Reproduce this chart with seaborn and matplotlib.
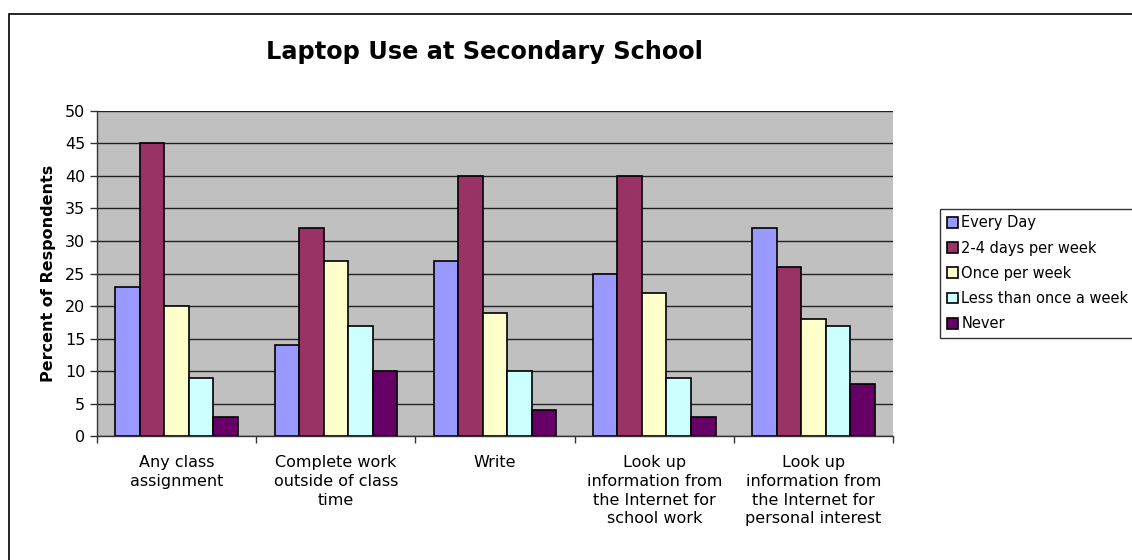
import pandas as pd
import seaborn as sns
import matplotlib.pyplot as plt
from matplotlib.patches import Rectangle

# chart data
activities = [
    "Any class\nassignment",
    "Complete work\noutside of class\ntime",
    "Write",
    "Look up\ninformation from\nthe Internet for\nschool work",
    "Look up\ninformation from\nthe Internet for\npersonal interest",
]
frequencies = ["Every Day", "2-4 days per week", "Once per week",
               "Less than once a week", "Never"]
every_day = [23, 14, 27, 25, 32]
two_four_days = [45, 32, 40, 40, 26]
once_week = [20, 27, 19, 22, 18]
less_than_once = [9, 17, 10, 9, 17]
never = [3, 10, 4, 3, 8]
bar_colors = ["#9999FF", "#993366", "#FFFFCC", "#CCFFFF", "#660066"]

series = [every_day, two_four_days, once_week, less_than_once, never]
rows = []
for freq, values in zip(frequencies, series):
    for act, v in zip(activities, values):
        rows.append({"activity": act, "frequency": freq, "percent": v})
df = pd.DataFrame(rows)

sns.set_theme(style="white")
plt.rcParams["font.family"] = ["DejaVu Sans"]
plt.rcParams["text.color"] = "black"
plt.rcParams["axes.labelcolor"] = "black"
plt.rcParams["xtick.color"] = "black"
plt.rcParams["ytick.color"] = "black"

fig = plt.figure(figsize=(11.32, 5.6), dpi=100)
ax = fig.add_axes([0.0857, 0.2214, 0.7032, 0.5804])

sns.barplot(data=df, x="activity", y="percent", hue="frequency",
            order=activities, hue_order=frequencies, palette=bar_colors,
            width=0.77, gap=0, edgecolor="black", linewidth=1.2,
            saturation=1, errorbar=None, ax=ax)

ax.set_facecolor("#C0C0C0")
ax.set_ylim(0, 50)
ax.set_xlim(-0.5, len(activities) - 0.5)
ax.set_yticks(range(0, 51, 5))
ax.yaxis.grid(True, color="#222222", linewidth=1.0)
ax.set_axisbelow(True)
for side in ["top", "right"]:
    ax.spines[side].set_visible(False)
for side in ["left", "bottom"]:
    ax.spines[side].set_color("#333333")
    ax.spines[side].set_linewidth(1.0)

# category boundaries carry the x tick marks
ax.set_xticks([i - 0.5 for i in range(len(activities) + 1)], minor=True)
ax.tick_params(axis="x", which="major", length=0, pad=14, labelsize=11.5)
ax.tick_params(axis="x", which="minor", length=5, width=1, color="#333333",
               direction="out", bottom=True)
ax.tick_params(axis="y", length=5, width=1, color="#333333", direction="out",
               left=True, labelsize=11.5)
for lbl in ax.get_xticklabels():
    lbl.set_multialignment("center")
    lbl.set_verticalalignment("top")
    lbl.set_linespacing(1.3)

ax.set_xlabel("")
ax.set_ylabel("Percent of Respondents", fontsize=11.5, fontweight="bold",
              labelpad=6)

fig.text(0.428, 0.907, "Laptop Use at Secondary School", fontsize=17.3,
         fontweight="bold", ha="center", va="center")

handles, labels = ax.get_legend_handles_labels()
ax.legend_.remove()
leg = fig.legend(handles, labels, loc="upper left",
                 bbox_to_anchor=(0.8305, 0.627), frameon=True,
                 fancybox=False, edgecolor="black", fontsize=10.5,
                 handlelength=0.75, handleheight=0.75, handletextpad=0.25,
                 labelspacing=0.7, borderpad=0.45, borderaxespad=0)
leg.get_frame().set_linewidth(1.0)

# outer chart frame
fig.add_artist(Rectangle((0.008, -0.01), 1.1, 0.985, transform=fig.transFigure,
                         fill=False, edgecolor="black", linewidth=1.2))

fig.savefig("out.png", dpi=100)
